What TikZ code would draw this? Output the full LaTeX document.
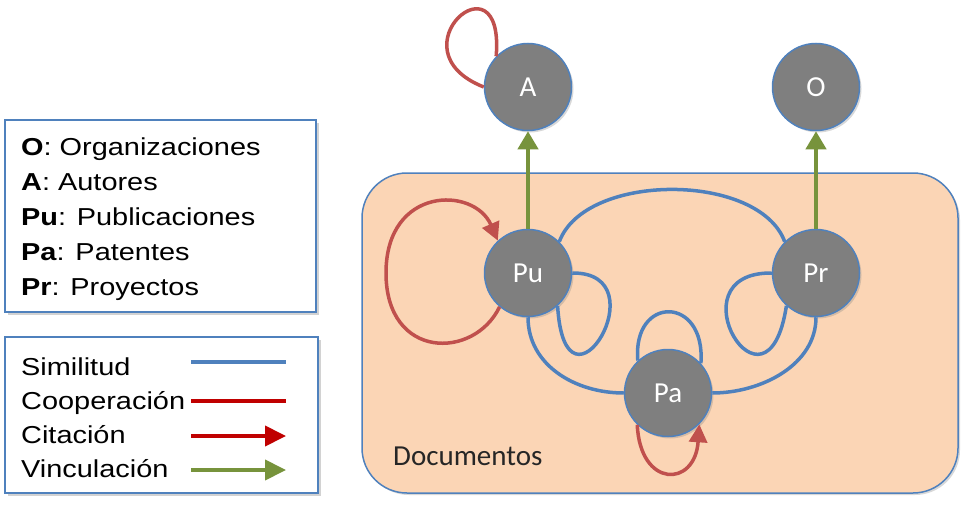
\documentclass[tikz,border=0pt]{standalone}
\usepackage{fontspec}
\setmainfont{Carlito}
\newfontfamily\legfont[FakeStretch=1.18]{Liberation Sans}
\usetikzlibrary{arrows.meta,shadows}
\definecolor{oblue}{HTML}{4F81BD}
\definecolor{ored}{HTML}{C0504D}
\definecolor{dred}{HTML}{C00000}
\definecolor{ogreen}{HTML}{77933C}
\definecolor{ogray}{HTML}{7F7F7F}
\definecolor{peach}{HTML}{FBD5B5}
\begin{document}
\begin{tikzpicture}[x=1pt,y=-1pt,
  ent/.style={circle,fill=ogray,draw=oblue,line width=1.5pt,minimum size=87pt,inner sep=0pt,
    text=white,font=\fontsize{29}{32}\selectfont,
    drop shadow={opacity=0.3,shadow xshift=2pt,shadow yshift=-2pt}},
  docbox/.style={draw=oblue,line width=1.5pt,fill=peach,rounded corners=45pt,inner sep=0pt,
    drop shadow={opacity=0.3,shadow xshift=2pt,shadow yshift=-2pt}},
  legbox/.style={draw=oblue,line width=1.5pt,fill=white,inner sep=0pt,
    drop shadow={opacity=0.35,shadow xshift=2.5pt,shadow yshift=-2.5pt}},
  legtext/.style={anchor=base west,inner sep=0pt,font=\legfont\fontsize{24.5}{29}\selectfont},
  sim/.style={draw=oblue,line width=3.5pt},
  coop/.style={draw=ored,line width=3.5pt},
  cit/.style={draw=ored,line width=3.5pt,-{Triangle[length=18pt,width=18pt]}},
  vinc/.style={draw=ogreen,line width=4pt,-{Triangle[length=18pt,width=20pt]}},
  lsim/.style={draw=oblue,line width=4pt},
  lcoop/.style={draw=dred,line width=4pt},
  lcit/.style={draw=dred,line width=4pt,-{Triangle[length=21pt,width=20pt]}},
  lvinc/.style={draw=ogreen,line width=4pt,-{Triangle[length=21pt,width=20pt]}},
]
\fill[white] (0,0) rectangle (971,519);
\useasboundingbox (0,0) rectangle (971,519);

% legend 1
\node[legbox,minimum width=311pt,minimum height=192pt] (leg1) at (160.5,216) {};
\node[legtext] (lO) at (21,155) {\textbf{O}: Organizaciones};
\node[legtext] (lA) at (21,190) {\textbf{A}: Autores};
\node[legtext] (lPu) at (21,225) {\textbf{Pu}: Publicaciones};
\node[legtext] (lPa) at (21,260) {\textbf{Pa}: Patentes};
\node[legtext] (lPr) at (21,295) {\textbf{Pr}: Proyectos};

% legend 2
\node[legbox,minimum width=313pt,minimum height=156pt] (leg2) at (161.5,415) {};
\node[legtext] (tsim) at (21,375) {Similitud};
\node[legtext] (tcoop) at (21,409) {Cooperación};
\node[legtext] (tcit) at (21,443) {Citación};
\node[legtext] (tvinc) at (21,477) {Vinculación};
\coordinate (s1) at (191,362); \coordinate (s2) at (286,362);
\coordinate (c1) at (191,401); \coordinate (c2) at (286,401);
\coordinate (ci1) at (191,436); \coordinate (ci2) at (286,436);
\coordinate (v1) at (191,470); \coordinate (v2) at (286,470);
\draw[lsim] (s1) -- (s2);
\draw[lcoop] (c1) -- (c2);
\draw[lcit] (ci1) -- (ci2);
\draw[lvinc] (v1) -- (v2);

% documents container
\node[docbox,minimum width=596pt,minimum height=320pt] (docs) at (660,333) {};
\node[anchor=base west,inner sep=0pt,text=black!85,font=\fontsize{29}{32}\selectfont] (doclab) at (393,465) {Documentos};

% nodes
\node[ent] (A) at (528,87) {A};
\node[ent] (O) at (816,87) {O};
\node[ent] (Pu) at (528,273) {Pu};
\node[ent] (Pr) at (816,273) {Pr};
\node[ent] (Pa) at (668,393) {Pa};

% similarity
\draw[sim] (Pu.45) .. controls (585,172) and (759,172) .. (Pr.135);
\draw[sim] (Pu.0) .. controls (662,272) and (565,432) .. (Pu.-48);
\draw[sim] (Pr.180) .. controls (670,272) and (767,432) .. (Pr.-132);
\draw[sim] (Pu.-90) .. controls (528,365) and (575,393) .. (Pa.180);
\draw[sim] (Pa.0) .. controls (761,393) and (816,365) .. (Pr.-90);
\draw[sim] (Pa.133) .. controls (632,295) and (706,295) .. (Pa.42);

% cooperation / citation
\draw[coop] (A.136) .. controls (505,-50) and (390,50) .. (A.180);
\draw[cit] (Pu.230) .. controls (474,360) and (386,360) .. (386,273) .. controls (386,186) and (474,186) .. (Pu.133);
\draw[cit] (Pa.226) .. controls (640,488) and (695,488) .. (Pa.-45);

% links
\draw[vinc] (Pu) -- (A);
\draw[vinc] (Pr) -- (O);
\end{tikzpicture}
\end{document}
